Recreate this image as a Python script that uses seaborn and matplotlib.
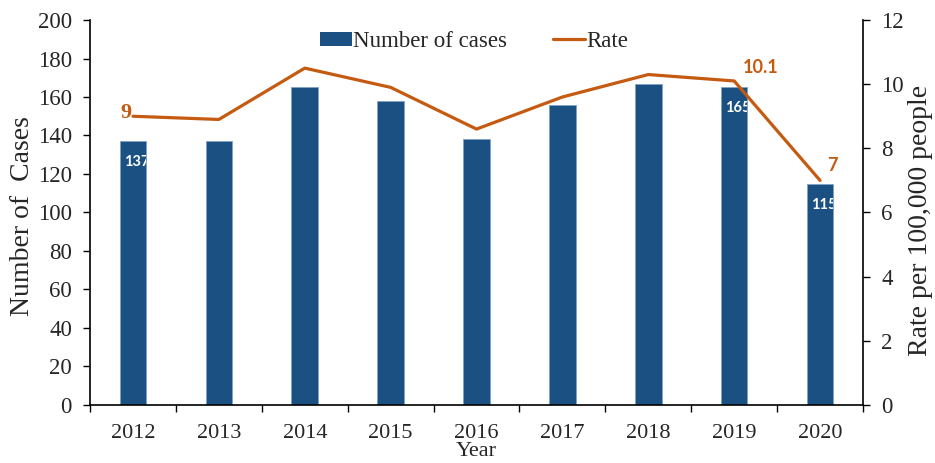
import matplotlib
matplotlib.use("Agg")
import matplotlib.pyplot as plt
import seaborn as sns
import pandas as pd
import numpy as np
from matplotlib.patches import Patch
from matplotlib.lines import Line2D
from matplotlib.ticker import FixedLocator, NullFormatter

years = ["2012", "2013", "2014", "2015", "2016", "2017", "2018", "2019", "2020"]
cases = [137, 137, 165, 158, 138, 156, 167, 165, 115]
rate = [9.0, 8.9, 10.5, 9.9, 8.6, 9.6, 10.3, 10.1, 7.0]
case_labels = {"2012": "137", "2019": "165", "2020": "115"}
rate_labels = {"2012": "9", "2019": "10.1", "2020": "7"}

bar_color = "#1B5182"
line_color = "#C55A11"

sns.set_style("white")
plt.rcParams["font.family"] = ["Liberation Serif", "DejaVu Serif"]

df = pd.DataFrame({"Year": years, "Cases": cases, "Rate": rate})

fig = plt.figure(figsize=(9.35, 4.63), dpi=100)
ax = fig.add_axes([0.0963, 0.1253, 0.8267, 0.8315])

bw = 0.31
sns.barplot(data=df, x="Year", y="Cases", color=bar_color, width=bw, ax=ax,
            saturation=1, edgecolor="#7FA3C4", linewidth=0.6)
ax.set_ylim(0, 200)
ax.set_xlim(-0.5, len(years) - 0.5)
ax.set_yticks(np.arange(0, 201, 20))
ax.tick_params(axis="y", direction="out", length=5, width=1, labelsize=16.5, left=True, pad=8, color="black")
ax.tick_params(axis="x", which="major", length=0, labelsize=16, pad=14)
ax.xaxis.set_minor_locator(FixedLocator(np.arange(-0.5, len(years), 1.0)))
ax.xaxis.set_minor_formatter(NullFormatter())
ax.tick_params(axis="x", which="minor", direction="out", length=5, width=1, bottom=True, color="black")
ax.set_ylabel("Number of  Cases", fontsize=20, va="center")
ax.yaxis.set_label_coords(-0.088, 0.49)
ax.set_xlabel("Year", fontsize=16, va="center")
ax.xaxis.set_label_coords(0.5, -0.122)
for s in ["top", "right"]:
    ax.spines[s].set_visible(False)
for s in ["left", "bottom"]:
    ax.spines[s].set_color("black")
    ax.spines[s].set_linewidth(1.2)

# labels inside bars
bars = ax.patches
for bar, y, v in zip(bars, years, cases):
    if y in case_labels:
        t = ax.annotate(case_labels[y], xy=(bar.get_x(), v), xytext=(3, -10),
                        textcoords="offset points", ha="left", va="top",
                        color="white", fontsize=10.5, fontweight="bold",
                        family=["Lato", "DejaVu Sans"])
        t.set_clip_path(bar)

ax2 = ax.twinx()
sns.lineplot(data=df, x="Year", y="Rate", color=line_color, linewidth=2.3, ax=ax2,
             sort=False)
ax2.set_ylim(0, 12)
ax2.set_yticks(np.arange(0, 13, 2))
ax2.tick_params(axis="y", direction="out", length=5, width=1, labelsize=16.5, right=True, pad=8, color="black")
ax2.set_ylabel("Rate per 100,000 people", fontsize=20, va="center", rotation=90)
ax2.yaxis.set_label_coords(1.0745, 0.48)
for s in ["top", "left", "bottom"]:
    ax2.spines[s].set_visible(False)
ax2.spines["right"].set_color("black")
ax2.spines["right"].set_linewidth(1.2)
ax2.set_xlim(-0.5, len(years) - 0.5)

offsets = {"2012": (-5, 2, ["Liberation Serif"], 16), "2019": (19, 9.5, ["Lato", "DejaVu Sans"], 13),
           "2020": (8.6, 10.8, ["Lato", "DejaVu Sans"], 13)}
for i, (y, r) in enumerate(zip(years, rate)):
    if y in rate_labels:
        dx, dy, fam, fs = offsets[y]
        ax2.annotate(rate_labels[y], xy=(i, r), xytext=(dx, dy), textcoords="offset points",
                     ha="center", va="center", color=line_color, fontsize=fs,
                     fontweight="bold", family=fam)

handles = [Patch(facecolor=bar_color, edgecolor="none", label="Number of cases"),
           Line2D([0], [0], color=line_color, linewidth=2.3, label="Rate")]
ax2.legend(handles=handles, loc="upper center", bbox_to_anchor=(0.497, 1.025), ncol=2,
           frameon=False, fontsize=16.5, handlelength=1.4, handleheight=0.6, handletextpad=0.05,
           columnspacing=2.0)

fig.savefig("out.png", dpi=100)
